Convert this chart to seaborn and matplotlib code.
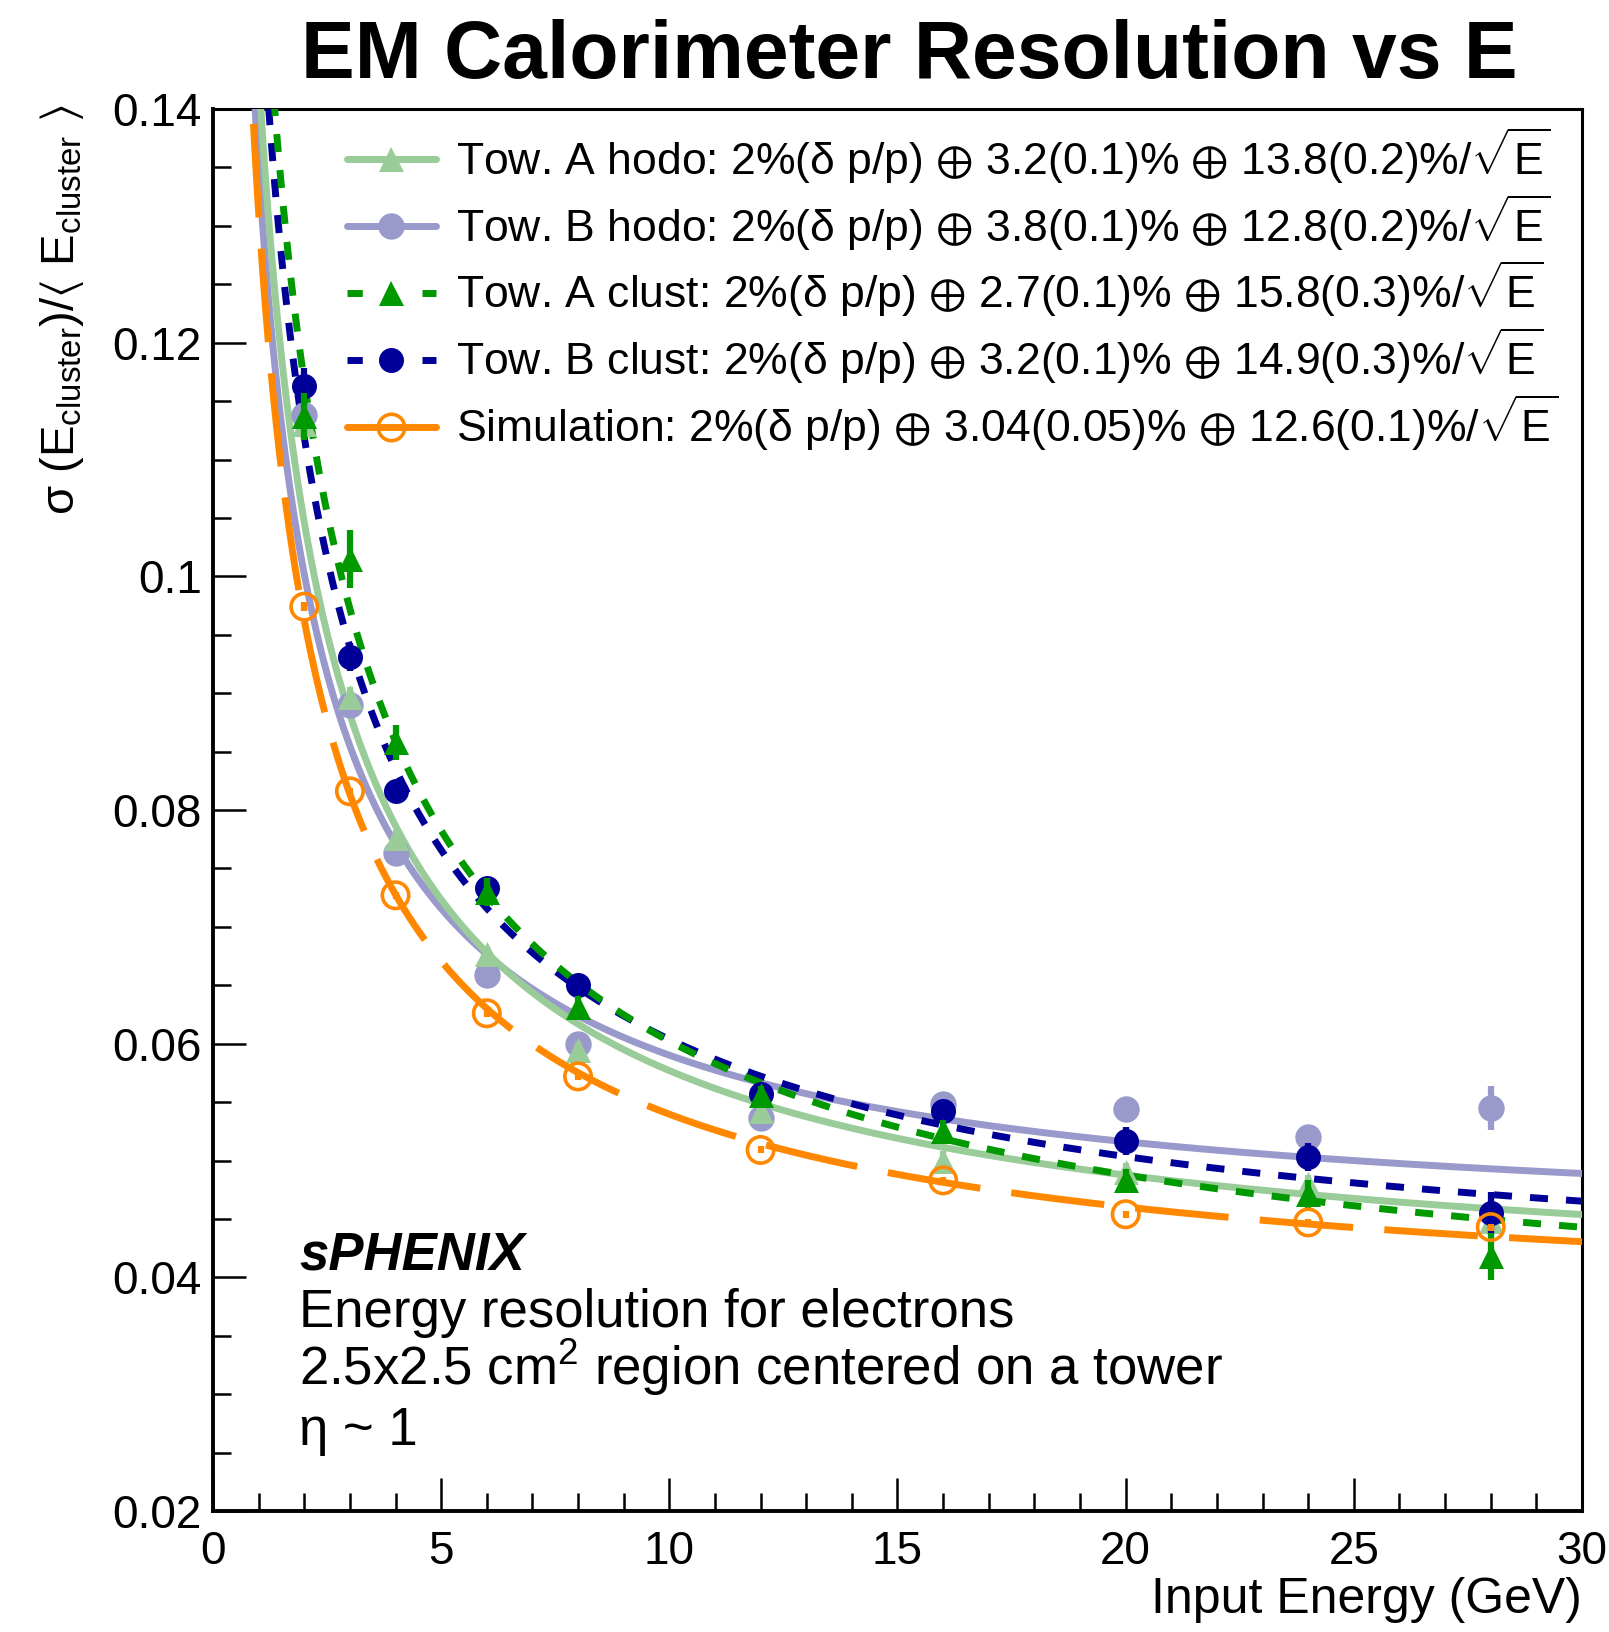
import numpy as np
import pandas as pd
import matplotlib
matplotlib.use("Agg")
import matplotlib.pyplot as plt
from matplotlib.lines import Line2D
from matplotlib.ticker import MultipleLocator, FixedFormatter, FixedLocator
import seaborn as sns

# ---- data -------------------------------------------------------------
energy = [2, 3, 4, 6, 8, 12, 16, 20, 24, 28]

towA_hodo = [0.1130, 0.0897, 0.0776, 0.0677, 0.0595, 0.0542, 0.0500, 0.0490, 0.0480, 0.0448]
towB_hodo = [0.1138, 0.0890, 0.0763, 0.0659, 0.0600, 0.0536, 0.0548, 0.0544, 0.0520, 0.0545]
towA_clust = [0.1137, 0.1015, 0.0858, 0.0730, 0.0631, 0.0556, 0.0525, 0.0483, 0.0471, 0.0418]
towB_clust = [0.1163, 0.0931, 0.0816, 0.0733, 0.0650, 0.0557, 0.0542, 0.0517, 0.0503, 0.0455]
simulation = [0.0974, 0.0816, 0.0727, 0.0626, 0.0572, 0.0509, 0.0483, 0.0454, 0.0447, 0.0443]

towA_hodo_err = [0.0010, 0.0008, 0.0007, 0.0006, 0.0006, 0.0006, 0.0008, 0.0008, 0.0008, 0.0010]
towB_hodo_err = [0.0010, 0.0008, 0.0007, 0.0006, 0.0006, 0.0006, 0.0008, 0.0008, 0.0010, 0.0019]
towA_clust_err = [0.0020, 0.0025, 0.0015, 0.0012, 0.0010, 0.0008, 0.0010, 0.0010, 0.0012, 0.0020]
towB_clust_err = [0.0015, 0.0012, 0.0010, 0.0010, 0.0010, 0.0008, 0.0010, 0.0012, 0.0012, 0.0018]
simulation_err = [0.0004, 0.0003, 0.0003, 0.0003, 0.0003, 0.0003, 0.0003, 0.0003, 0.0003, 0.0003]

# fit parameters (percent): beam spread, constant term, stochastic term
beam_term = 2.0
const_term = [3.2, 3.8, 2.7, 3.2, 3.04]
stoch_term = [13.8, 12.8, 15.8, 14.9, 12.6]

OPLUS = r"$\oplus$"
SQRTE = r"$\sqrt{\mathrm{E}}$"
labels = [
    f"Tow. A hodo: 2%(δ p/p) {OPLUS} 3.2(0.1)% {OPLUS} 13.8(0.2)%/{SQRTE}",
    f"Tow. B hodo: 2%(δ p/p) {OPLUS} 3.8(0.1)% {OPLUS} 12.8(0.2)%/{SQRTE}",
    f"Tow. A clust: 2%(δ p/p) {OPLUS} 2.7(0.1)% {OPLUS} 15.8(0.3)%/{SQRTE}",
    f"Tow. B clust: 2%(δ p/p) {OPLUS} 3.2(0.1)% {OPLUS} 14.9(0.3)%/{SQRTE}",
    f"Simulation: 2%(δ p/p) {OPLUS} 3.04(0.05)% {OPLUS} 12.6(0.1)%/{SQRTE}",
]

# ---- style --------------------------------------------------------------
sns.set_theme(style="ticks")
plt.rcParams["font.family"] = ["Liberation Sans", "DejaVu Sans"]
plt.rcParams["mathtext.fontset"] = "custom"
plt.rcParams["mathtext.rm"] = "Liberation Sans"
plt.rcParams["mathtext.it"] = "Liberation Sans:italic"
plt.rcParams["mathtext.bf"] = "Liberation Sans:bold"
plt.rcParams["mathtext.default"] = "regular"
for key in ["text.color", "axes.labelcolor", "xtick.color", "ytick.color", "axes.edgecolor"]:
    plt.rcParams[key] = "black"

W, H = 1609, 1632
fig = plt.figure(figsize=(W / 100, H / 100), dpi=100)
fig.patch.set_facecolor("white")


def fx(px):
    return px / W


def fy(py):
    return 1 - py / H


ax = fig.add_axes([fx(213), fy(1511), fx(1582) - fx(213), fy(109) - fy(1511)])
ax.set_facecolor("white")

series = [
    dict(y=towB_hodo, err=towB_hodo_err, color="#9999cc", marker="o", ls="-", ms=19, fill=True, z=3),
    dict(y=towA_hodo, err=towA_hodo_err, color="#99cc99", marker="^", ls="-", ms=18, fill=True, z=4),
    dict(y=towB_clust, err=towB_clust_err, color="#000099", marker="o", ls=(0, (2.6, 2.6)), ms=18, fill=True, z=5),
    dict(y=towA_clust, err=towA_clust_err, color="#009900", marker="^", ls=(1.3, (2.6, 2.6)), ms=18, fill=True, z=6),
    dict(y=simulation, err=simulation_err, color="#ff8800", marker="o", ls=(0, (13.5, 4.5)), ms=19, fill=False, z=7),
]
param_index = [1, 0, 3, 2, 4]

e_grid = np.linspace(0.5, 30.0, 500)
for s, pi in zip(series, param_index):
    curve = np.sqrt(beam_term ** 2 + const_term[pi] ** 2 + stoch_term[pi] ** 2 / e_grid) / 100.0
    fit_df = pd.DataFrame({"E": e_grid, "res": curve})
    sns.lineplot(data=fit_df, x="E", y="res", color=s["color"], linewidth=5,
                 linestyle=s["ls"], estimator=None, ax=ax, zorder=s["z"])

for s in series:
    pts = pd.DataFrame({"E": energy, "res": s["y"]})
    ax.errorbar(energy, s["y"], yerr=s["err"], fmt="none", ecolor=s["color"],
                elinewidth=4.5, capsize=0, zorder=s["z"] + 10)
    sns.scatterplot(data=pts, x="E", y="res", marker=s["marker"], s=s["ms"] ** 2,
                    color=s["color"], edgecolor=s["color"],
                    linewidth=2.6 if not s["fill"] else 0, ax=ax, zorder=s["z"] + 10)
    if not s["fill"]:
        ax.collections[-1].set_facecolor("none")

# ---- axes ---------------------------------------------------------------
ax.set_xlim(0, 30)
ax.set_ylim(0.02, 0.14)
ax.xaxis.set_major_locator(MultipleLocator(5))
ax.xaxis.set_minor_locator(MultipleLocator(1))
ax.yaxis.set_major_locator(FixedLocator([0.02, 0.04, 0.06, 0.08, 0.10, 0.12, 0.14]))
ax.yaxis.set_major_formatter(FixedFormatter(["0.02", "0.04", "0.06", "0.08", "0.1", "0.12", "0.14"]))
ax.yaxis.set_minor_locator(MultipleLocator(0.005))
ax.tick_params(axis="both", which="both", direction="in", colors="black", width=1.8)
ax.tick_params(axis="both", which="major", length=24, labelsize=33)
ax.tick_params(axis="both", which="minor", length=13)
ax.tick_params(axis="x", which="major", pad=14)
ax.tick_params(axis="y", which="major", pad=8)
for side in ["left", "bottom"]:
    ax.spines[side].set_linewidth(2.8)
for side in ["top", "right"]:
    ax.spines[side].set_linewidth(2.2)
for sp in ax.spines.values():
    sp.set_color("black")

ax.set_xlabel("Input Energy (GeV)", fontsize=36, loc="right")
ax.xaxis.set_label_coords(1.0, (1511 - 1600) / 1402)
ax.xaxis.label.set_va("center")
ax.set_ylabel(r"$\sigma\ (\mathrm{E}_{\mathrm{cluster}})/\langle\ \mathrm{E}_{\mathrm{cluster}}\ \rangle$",
              fontsize=34, loc="top")
ax.yaxis.set_label_coords((62 - 213) / 1369, 1.0 + 5 / 1402)
ax.yaxis.label.set_va("center")

# ---- legend -------------------------------------------------------------
legend_order = [series[1], series[0], series[3], series[2], series[4]]
handles = []
for s in legend_order:
    dashed = s["ls"] != "-" and s["fill"]
    handles.append(Line2D([], [], color=s["color"], lw=5,
                          linestyle=(0, (2.2, 8.6)) if dashed else "-",
                          marker=s["marker"], markersize=s["ms"],
                          markerfacecolor=s["color"] if s["fill"] else "none",
                          markeredgecolor=s["color"], markeredgewidth=2.6 if not s["fill"] else 0))
ax.legend(handles, labels, loc="upper left", bbox_to_anchor=(fx(347), fy(125)),
          bbox_transform=fig.transFigure, frameon=False, fontsize=32,
          handlelength=2.0, handletextpad=0.45, labelspacing=0.14,
          borderpad=0, borderaxespad=0)

# ---- annotations --------------------------------------------------------
fig.text(fx(299), fy(1270), "sPHENIX", fontsize=38, fontweight="bold", fontstyle="italic", va="baseline")
fig.text(fx(299), fy(1327), "Energy resolution for electrons", fontsize=38, va="baseline")
fig.text(fx(299), fy(1385), "2.5x2.5 cm$^2$ region centered on a tower", fontsize=38, va="baseline")
fig.text(fx(299), fy(1445), "η ~ 1", fontsize=38, va="baseline")

fig.text(fx(909), fy(78), "EM Calorimeter Resolution vs E", fontsize=58, fontweight="bold",
         ha="center", va="baseline")

fig.savefig("out.png", dpi=100, facecolor="white")
